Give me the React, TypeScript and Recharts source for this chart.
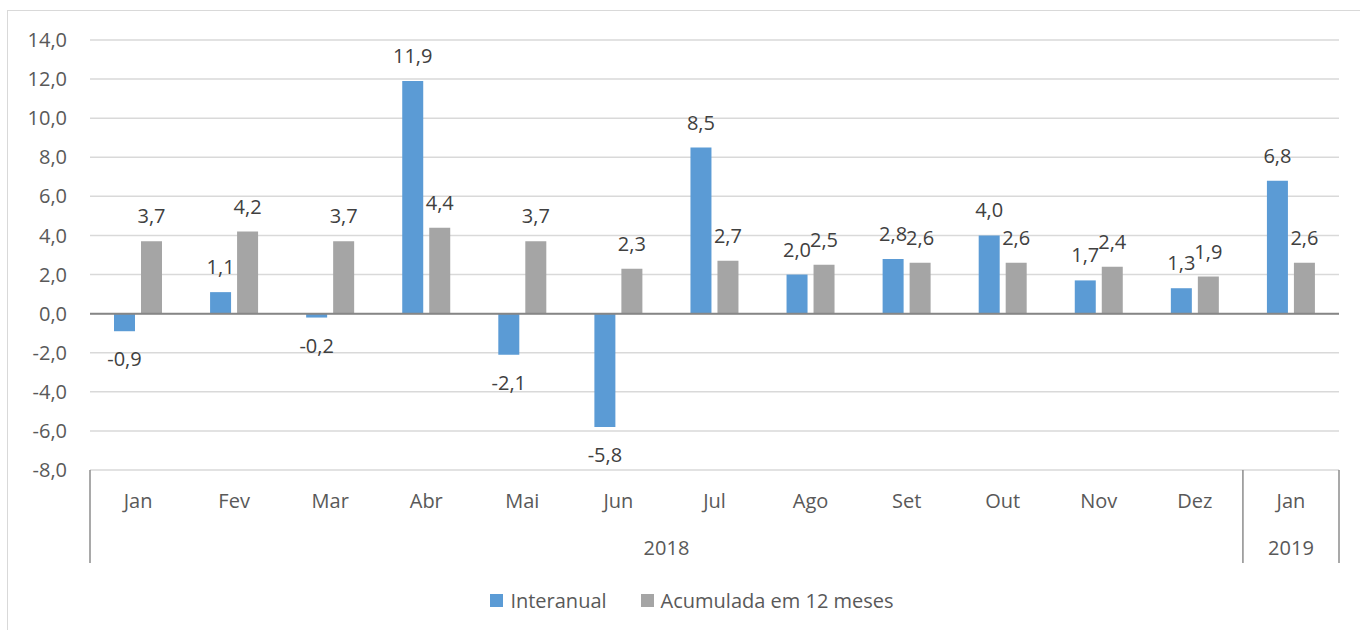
import React from 'react';
import { BarChart, Bar, XAxis, YAxis, CartesianGrid, ReferenceLine, Legend, LabelList } from 'recharts';

const months = ['Jan', 'Fev', 'Mar', 'Abr', 'Mai', 'Jun', 'Jul', 'Ago', 'Set', 'Out', 'Nov', 'Dez', 'Jan'];
const years = ['2018', '2018', '2018', '2018', '2018', '2018', '2018', '2018', '2018', '2018', '2018', '2018', '2019'];
const interanual = [-0.9, 1.1, -0.2, 11.9, -2.1, -5.8, 8.5, 2.0, 2.8, 4.0, 1.7, 1.3, 6.8];
const acumulada = [3.7, 4.2, 3.7, 4.4, 3.7, 2.3, 2.7, 2.5, 2.6, 2.6, 2.4, 1.9, 2.6];
const yTicks = [-8, -6, -4, -2, 0, 2, 4, 6, 8, 10, 12, 14];

const seriesNames = ['Interanual', 'Acumulada em 12 meses'];
const seriesColors = ['#5B9BD5', '#A5A5A5'];

const data = months.map((m, i) => ({
  key: `${years[i]}-${i}`,
  month: m,
  year: years[i],
  interanual: interanual[i],
  acumulada: acumulada[i],
}));

const W = 1360;
const H = 630;
const MARGIN = { top: 40, right: 21, left: 0, bottom: 37 };
const YW = 90;
const BAND = (W - MARGIN.left - MARGIN.right - YW) / months.length;
const FONT = '"Open Sans", sans-serif';
const fmt = (v: number) => v.toFixed(1).replace('.', ',');

const MonthTick = (props: any) => {
  const { x, y, index } = props;
  const i = index ?? props.payload?.index ?? 0;
  const lines: number[] = [];
  const isGroupStart = i === 0 || years[i] !== years[i - 1];
  const isLast = i === months.length - 1;
  if (isGroupStart) lines.push(x - BAND / 2);
  if (isLast) lines.push(x + BAND / 2);
  return (
    <g>
      <text x={x} y={y + 38} textAnchor="middle" fill="#595959" fontSize={20} fontFamily={FONT}>
        {months[i]}
      </text>
      {lines.map((lx, k) => (
        <line key={k} x1={lx} x2={lx} y1={y} y2={y + 93} stroke="#8C8C8C" strokeWidth={1.5} />
      ))}
    </g>
  );
};

const YearTick = (props: any) => {
  const { x, y, index } = props;
  const i = index ?? props.payload?.index ?? 0;
  const isGroupStart = i === 0 || years[i] !== years[i - 1];
  if (!isGroupStart) return <g />;
  let len = 0;
  while (i + len < years.length && years[i + len] === years[i]) len++;
  const cx = x - BAND / 2 + (len * BAND) / 2;
  return (
    <text x={cx} y={y + 39} textAnchor="middle" fill="#595959" fontSize={20} fontFamily={FONT}>
      {years[i]}
    </text>
  );
};

const BarLabel = (props: any) => {
  const { x, y, width, height, value } = props;
  if (value === undefined || value === null) return null;
  const top = Math.min(y, y + height);
  const bottom = Math.max(y, y + height);
  const cx = x + width / 2;
  const ty = value >= 0 ? top - 18 : bottom + 35;
  return (
    <text x={cx} y={ty} textAnchor="middle" fill="#404040" fontSize={20} fontFamily={FONT}>
      {fmt(value)}
    </text>
  );
};

const LegendContent = () => (
  <div
    style={{
      display: 'flex',
      justifyContent: 'center',
      alignItems: 'center',
      height: 30,
      transform: 'translateX(12px)',
      fontFamily: FONT,
      fontSize: 20,
      color: '#595959',
    }}
  >
    {seriesNames.map((n, k) => (
      <div key={n} style={{ display: 'flex', alignItems: 'center', marginRight: k === 0 ? 34 : 0 }}>
        <span style={{ width: 13, height: 13, background: seriesColors[k], display: 'inline-block', marginRight: 7 }} />
        <span>{n}</span>
      </div>
    ))}
  </div>
);

export default function App() {
  return (
    <div style={{ position: 'fixed', left: 0, top: 0, width: W, height: H, background: '#fff', overflow: 'hidden' }}>
      <div
        style={{
          position: 'absolute',
          left: 7,
          top: 10,
          width: W,
          height: H,
          border: '1.5px solid #D9D9D9',
          boxSizing: 'border-box',
        }}
      />
      <div style={{ position: 'absolute', left: 0, top: 0 }}>
        <BarChart width={W} height={H} data={data} margin={MARGIN} barSize={21} barGap={6}>
          <CartesianGrid vertical={false} stroke="#D9D9D9" strokeWidth={1.5} />
          <XAxis
            dataKey="key"
            axisLine={false}
            tickLine={false}
            tickSize={0}
            tickMargin={0}
            height={46}
            interval={0}
            tick={<MonthTick />}
          />
          <XAxis
            xAxisId="year"
            dataKey="key"
            axisLine={false}
            tickLine={false}
            tickSize={0}
            tickMargin={0}
            height={47}
            interval={0}
            tick={<YearTick />}
          />
          <YAxis
            domain={[-8, 14]}
            ticks={yTicks}
            interval={0}
            width={YW}
            axisLine={false}
            tickLine={false}
            tickSize={0}
            tickMargin={23}
            tickFormatter={fmt}
            tick={{ fill: '#595959', fontSize: 20, fontFamily: FONT }}
          />
          <ReferenceLine y={0} stroke="#868686" strokeWidth={2} />
          <Legend verticalAlign="bottom" content={<LegendContent />} wrapperStyle={{ left: 0, width: W, bottom: 15 }} />
          <Bar dataKey="interanual" name={seriesNames[0]} fill={seriesColors[0]} isAnimationActive={false}>
            <LabelList dataKey="interanual" content={<BarLabel />} />
          </Bar>
          <Bar dataKey="acumulada" name={seriesNames[1]} fill={seriesColors[1]} isAnimationActive={false}>
            <LabelList dataKey="acumulada" content={<BarLabel />} />
          </Bar>
        </BarChart>
      </div>
    </div>
  );
}
